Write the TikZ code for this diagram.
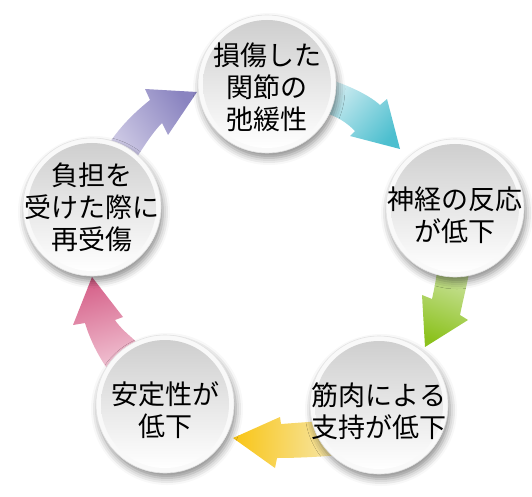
\documentclass[tikz,border=0pt]{standalone}
\usepackage{fontspec}
\newfontfamily\jp{Noto Sans CJK JP}
\usetikzlibrary{shadows.blur}
\definecolor{cyanH}{HTML}{4DBFCF}\definecolor{cyanT}{HTML}{D2EDF2}
\definecolor{greenH}{HTML}{8CC21E}\definecolor{greenT}{HTML}{CCE3A0}
\definecolor{yellowH}{HTML}{F9C516}\definecolor{yellowT}{HTML}{F6E8B0}
\definecolor{pinkH}{HTML}{D6628A}\definecolor{pinkT}{HTML}{F2C8D7}
\definecolor{purpleH}{HTML}{8A84C0}\definecolor{purpleT}{HTML}{D0CCE6}
\begin{document}
\begin{tikzpicture}[x=1pt,y=-1pt,
  stage/.style={circle, minimum size=138pt, inner sep=0pt, fill=gray!5, draw=gray!22, line width=0.6pt,
    blur shadow={shadow xshift=2pt, shadow yshift=-5pt, shadow blur radius=7pt, shadow opacity=45}},
  disc/.style={top color=gray!38, bottom color=white},
  txt/.style={font=\jp\fontsize{27}{32}\selectfont, align=center, text=black, inner sep=0pt}]
\useasboundingbox (0,0) rectangle (532,497);
% arrows
\shade[top color=cyanH, bottom color=cyanT, shading angle=-131]
  (400,149) -- (350,136) -- (355,131) .. controls (348,124) and (338,116) .. (322,112)
  -- (325,78) .. controls (345,84) and (368,94) .. (380,105) -- (387,99) -- cycle;
\shade[top color=greenH, bottom color=greenT, shading angle=159]
  (425,347) -- (422,295) -- (432,299) .. controls (434,290) and (436,280) .. (438,265)
  -- (470,268) .. controls (467,285) and (463,300) .. (460,315) -- (468,320) -- cycle;
\shade[top color=yellowH, bottom color=yellowT, shading angle=88]
  (233,438) -- (280,417) -- (281,424) .. controls (295,423) and (308,422) .. (322,421)
  -- (340,455) .. controls (318,457) and (295,458) .. (277,458) -- (275,468) -- cycle;
\shade[top color=pinkH, bottom color=pinkT, shading angle=16]
  (92,277) -- (123,317) -- (115,320) .. controls (120,328) and (130,336) .. (140,345)
  -- (112,375) .. controls (100,360) and (90,340) .. (85,323) -- (73,325) -- cycle;
\shade[top color=purpleH, bottom color=purpleT, shading angle=-56.5]
  (197,92) -- (145,89) -- (150,100) .. controls (135,112) and (118,128) .. (105,150)
  -- (135,160) .. controls (143,148) and (152,133) .. (162,123) -- (168,135) -- cycle;
% circles
\node[stage] (c1) at (267,84) {};
\node[stage] (c2) at (455,208) {};
\node[stage] (c3) at (379,405) {};
\node[stage] (c4) at (165,404) {};
\node[stage] (c5) at (92,207) {};
\foreach \c in {c1,c2,c3,c4,c5}{\shade[disc] (\c) circle[radius=64pt];}
\node[txt] (t1) at ([yshift=-3pt]c1) {損傷した\\関節の\\弛緩性};
\node[txt] (t2) at ([yshift=-7pt]c2) {神経の反応\\が低下};
\node[txt] (t3) at ([yshift=-6pt]c3) {筋肉による\\支持が低下};
\node[txt] (t4) at ([yshift=-6pt]c4) {安定性が\\低下};
\node[txt] (t5) at ([yshift=0pt]c5) {負担を\\受けた際に\\再受傷};
\end{tikzpicture}
\end{document}
